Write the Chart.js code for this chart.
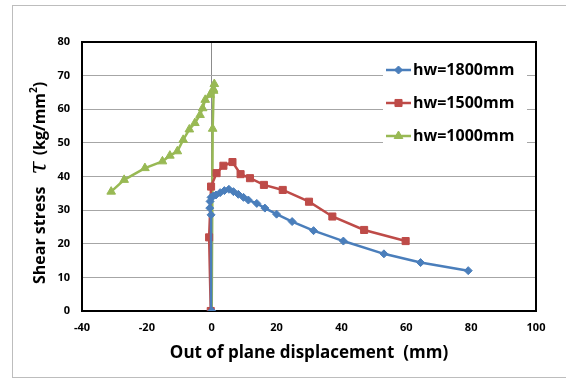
<!DOCTYPE html>
<html>
<head>
<meta charset="utf-8">
<script src="https://cdn.jsdelivr.net/npm/chart.js@4"></script>
<style>
  html, body { margin: 0; padding: 0; background: #fff; }
  #wrap { position: relative; width: 566px; height: 380px; }
  #frame { position: absolute; left: 12px; top: 5px; width: 570px; height: 373px; border: 1px solid #bdbdbd; box-sizing: border-box; }
  canvas { position: absolute; left: 0; top: 0; }
</style>
</head>
<body>
<div id="wrap">
  <div id="frame"></div>
  <canvas id="chart" width="566" height="380"></canvas>
</div>
<script>
// series data (x = displacement mm, y = shear stress)
const labels = ["hw=1800mm", "hw=1500mm", "hw=1000mm"];

const blueX = [0, -0.2, -0.6, -0.5, -0.2, 0.5, 1.3, 2.6, 3.9, 5.3, 6.7, 8.2, 9.8, 11.3, 13.9, 16.4, 20, 24.8, 31.4, 40.6, 53.1, 64.4, 79.1];
const blueY = [0, 28.6, 30.6, 32.6, 33.8, 34.2, 34.5, 35.2, 35.8, 36.2, 35.5, 34.7, 33.8, 33, 32, 30.6, 28.8, 26.6, 23.9, 20.8, 17, 14.4, 12];

const redX = [-0.3, -0.8, -0.2, 1.5, 3.6, 6.4, 8.9, 11.8, 16.1, 21.9, 30, 37.2, 47, 59.8];
const redY = [0, 21.9, 37, 41, 43.2, 44.3, 40.7, 39.5, 37.5, 36, 32.5, 28.1, 24.1, 20.8];

const greenX = [0, 0.3, 0.6, 0.8, 0.5, -0.5, -2, -2.8, -3.6, -5.2, -6.9, -8.8, -10.6, -12.9, -15.2, -20.6, -27, -31];
const greenY = [0, 54.2, 65.5, 67.5, 66, 64.3, 62.8, 60.3, 58.3, 55.9, 54, 50.9, 47.5, 46.2, 44.5, 42.5, 39, 35.5];

const xTicks = [-40, -20, 0, 20, 40, 60, 80, 100];
const yTicks = [0, 10, 20, 30, 40, 50, 60, 70, 80];

const colors = ["#4a7ebb", "#be4b48", "#98b954"];
const styles = ["rectRot", "rect", "triangle"];
const radii = [4, 5, 5];

function pts(xs, ys) {
    return xs.map((x, i) => ({ x: x, y: ys[i] }));
}

const tickFont = { family: "'Open Sans', sans-serif", size: 11, weight: "bold" };

// black frame around plot area
const framePlugin = {
    id: "frame",
    beforeDatasetsDraw(chart) {
        const a = chart.chartArea;
        const ctx = chart.ctx;
        ctx.save();
        ctx.strokeStyle = "#000";
        ctx.lineWidth = 2;
        ctx.strokeRect(a.left, a.top, a.right - a.left, a.bottom - a.top);
        ctx.restore();
    }
};

// y title with mixed fonts and the legend box
const extrasPlugin = {
    id: "extras",
    afterDraw(chart) {
        const ctx = chart.ctx;
        ctx.save();
        ctx.translate(40, 284);
        ctx.rotate(-Math.PI / 2);
        ctx.fillStyle = "#000";
        ctx.textBaseline = "middle";
        ctx.textAlign = "left";
        let x = 0;
        ctx.font = "bold 16px 'Open Sans', sans-serif";
        ctx.fillText("Shear stress", x, 0);
        x += ctx.measureText("Shear stress").width + 12;
        ctx.font = "italic 24px 'DejaVu Serif', serif";
        ctx.fillText("\u03C4", x, 0);
        x += ctx.measureText("\u03C4").width + 6;
        ctx.font = "bold 16px 'Open Sans', sans-serif";
        ctx.fillText("(kg/mm", x, 0);
        x += ctx.measureText("(kg/mm").width;
        ctx.font = "bold 10px 'Open Sans', sans-serif";
        ctx.fillText("2", x, -6);
        x += ctx.measureText("2").width;
        ctx.font = "bold 16px 'Open Sans', sans-serif";
        ctx.fillText(")", x, 0);
        ctx.restore();

        // legend
        ctx.save();
        ctx.fillStyle = "#fff";
        ctx.fillRect(383, 56, 144, 94);
        const rows = [70, 103, 136];
        chart.data.datasets.forEach((ds, i) => {
            const y = rows[i];
            ctx.strokeStyle = ds.borderColor;
            ctx.lineWidth = 2.5;
            ctx.beginPath();
            ctx.moveTo(386, y);
            ctx.lineTo(411, y);
            ctx.stroke();
            ctx.fillStyle = ds.backgroundColor;
            ctx.lineWidth = 1;
            Chart.helpers.drawPoint(ctx, {
                pointStyle: ds.pointStyle, radius: ds.pointRadius, borderWidth: 1
            }, 398.5, y);
            ctx.fillStyle = "#000";
            ctx.font = "bold 16px 'Open Sans', sans-serif";
            ctx.textBaseline = "middle";
            ctx.textAlign = "left";
            ctx.fillText(ds.label, 413, y);
        });
        ctx.restore();
    }
};

const datasets = [pts(blueX, blueY), pts(redX, redY), pts(greenX, greenY)].map((d, i) => ({
    label: labels[i],
    data: d,
    showLine: true,
    borderColor: colors[i],
    backgroundColor: colors[i],
    borderWidth: 2.5,
    pointStyle: styles[i],
    pointRadius: radii[i],
    pointBorderWidth: 1,
    tension: 0
}));

new Chart(document.getElementById("chart"), {
    type: "scatter",
    data: { datasets: datasets },
    plugins: [framePlugin, extrasPlugin],
    options: {
        responsive: false,
        animation: false,
        layout: { padding: { left: 20, right: 30, top: 42, bottom: 0 } },
        plugins: { legend: { display: false }, tooltip: { enabled: false } },
        scales: {
            x: {
                type: "linear",
                min: -40,
                max: 100,
                afterBuildTicks: s => { s.ticks = xTicks.map(v => ({ value: v })); },
                afterFit: s => { s.height = 69; },
                ticks: { font: tickFont, color: "#000", padding: 10 },
                grid: {
                    drawTicks: false,
                    color: c => c.tick && c.tick.value === 0 ? "#8c8c8c" : "rgba(0,0,0,0)",
                    lineWidth: 1
                },
                border: { display: false },
                title: {
                    display: true,
                    text: "Out of plane displacement  (mm)",
                    font: { family: "'Open Sans', sans-serif", size: 17, weight: "bold" },
                    color: "#000",
                    padding: { top: 6, bottom: 17 }
                }
            },
            y: {
                min: 0,
                max: 80,
                afterBuildTicks: s => { s.ticks = yTicks.map(v => ({ value: v })); },
                afterFit: s => { s.width = 62; },
                ticks: { font: tickFont, color: "#000", padding: 12 },
                grid: { drawTicks: false, color: "#a6a6a6", lineWidth: 1 },
                border: { display: false }
            }
        }
    }
});
</script>
</body>
</html>
